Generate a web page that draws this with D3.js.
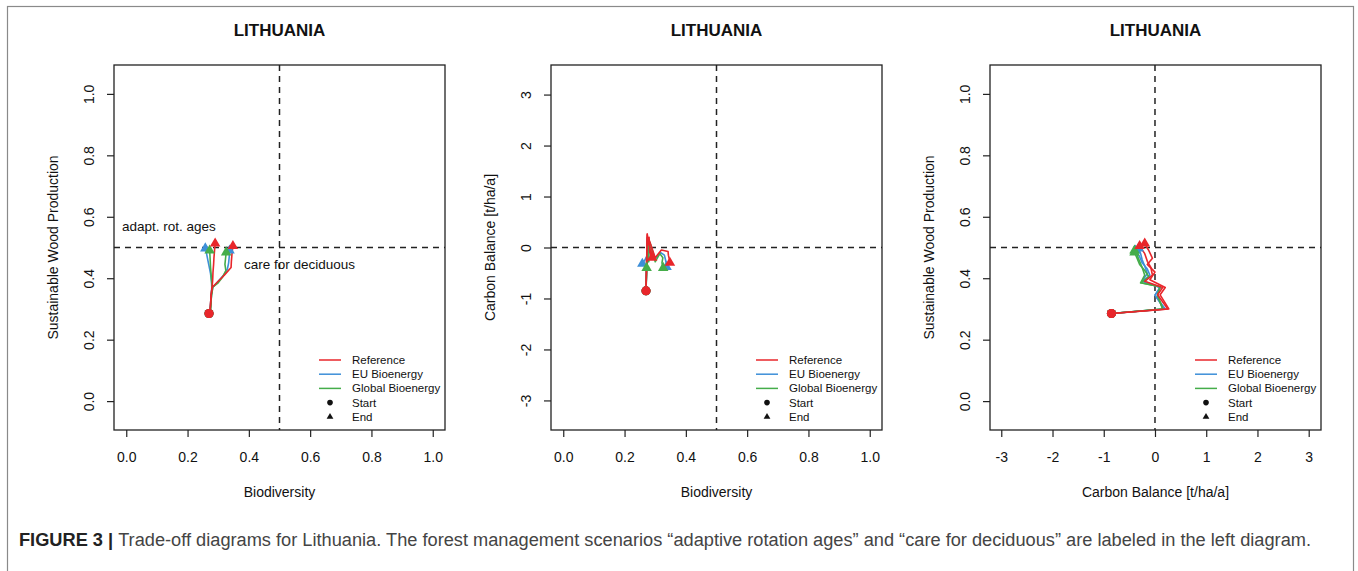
<!DOCTYPE html>
<html>
<head>
<meta charset="utf-8">
<script src="https://cdn.jsdelivr.net/npm/d3@7"></script>
<style>
  html, body { margin: 0; padding: 0; background: #fff; }
  svg { display: block; }
  text { font-family: "Liberation Sans", Arial, sans-serif; }
</style>
</head>
<body>
<svg id="chart" width="1358" height="571"></svg>
<script>
// ---------------- DATA ----------------
const countryTitle = "LITHUANIA";
const climateNames = ["Reference", "EU Bioenergy", "Global Bioenergy"];
const climateColors = ["#e8262b", "#3d8fd8", "#45ad4a"];
const unitTicks = [0.0, 0.2, 0.4, 0.6, 0.8, 1.0];
const unitTickLabels = ["0.0", "0.2", "0.4", "0.6", "0.8", "1.0"];
const carbonTicks = [-3, -2, -1, 0, 1, 2, 3];
const carbonTickLabels = ["-3", "-2", "-1", "0", "1", "2", "3"];

// Management "adaptive rotation ages"
const bio_AR_REF  = [0.270, 0.274, 0.277, 0.280, 0.282, 0.283, 0.285, 0.286, 0.288, 0.290];
const wood_AR_REF = [0.285, 0.300, 0.346, 0.370, 0.395, 0.420, 0.445, 0.465, 0.490, 0.513];
const carb_AR_REF = [-0.85, 0.27, 0.10, 0.20, -0.10, 0.00, -0.15, -0.05, -0.12, -0.20];

const bio_AR_EU   = [0.270, 0.274, 0.277, 0.279, 0.278, 0.275, 0.270, 0.266, 0.262, 0.258];
const wood_AR_EU  = [0.285, 0.300, 0.345, 0.370, 0.390, 0.415, 0.440, 0.460, 0.480, 0.497];
const carb_AR_EU  = [-0.85, 0.18, 0.00, 0.10, -0.25, -0.15, -0.20, -0.25, -0.28, -0.32];

const bio_AR_GLB  = [0.270, 0.275, 0.278, 0.280, 0.279, 0.277, 0.275, 0.274, 0.273, 0.272];
const wood_AR_GLB = [0.285, 0.300, 0.345, 0.372, 0.385, 0.410, 0.435, 0.455, 0.475, 0.490];
const carb_AR_GLB = [-0.85, 0.15, 0.05, 0.10, -0.28, -0.20, -0.25, -0.30, -0.35, -0.40];

// Management "care for deciduous"
const bio_CD_REF  = [0.270, 0.274, 0.277, 0.280, 0.300, 0.320, 0.342, 0.343, 0.345, 0.348];
const wood_CD_REF = [0.285, 0.300, 0.346, 0.370, 0.390, 0.410, 0.435, 0.455, 0.480, 0.505];
const carb_CD_REF = [-0.85, 0.25, 0.05, 0.15, -0.20, -0.05, -0.08, -0.15, -0.20, -0.30];

const bio_CD_EU   = [0.270, 0.274, 0.278, 0.282, 0.300, 0.318, 0.330, 0.334, 0.336, 0.337];
const wood_CD_EU  = [0.285, 0.300, 0.345, 0.370, 0.390, 0.410, 0.430, 0.450, 0.470, 0.490];
const carb_CD_EU  = [-0.85, 0.20, 0.00, 0.10, -0.22, -0.10, -0.15, -0.25, -0.30, -0.38];

const bio_CD_GLB  = [0.270, 0.275, 0.278, 0.283, 0.300, 0.315, 0.325, 0.322, 0.324, 0.326];
const wood_CD_GLB = [0.285, 0.300, 0.345, 0.372, 0.385, 0.405, 0.425, 0.445, 0.465, 0.484];
const carb_CD_GLB = [-0.85, 0.15, 0.05, 0.10, -0.28, -0.12, -0.20, -0.30, -0.35, -0.40];

const legendLabels = ["Reference", "EU Bioenergy", "Global Bioenergy", "Start", "End"];
const captionBold = "FIGURE 3 | ";
const captionText = "Trade-off diagrams for Lithuania. The forest management scenarios \u201cadaptive rotation ages\u201d and \u201ccare for deciduous\u201d are labeled in the left diagram.";

// ---------------- BUILD ----------------
const trajectories = [
  {clim: 1, bio: bio_AR_EU,  wood: wood_AR_EU,  carb: carb_AR_EU},
  {clim: 1, bio: bio_CD_EU,  wood: wood_CD_EU,  carb: carb_CD_EU},
  {clim: 2, bio: bio_AR_GLB, wood: wood_AR_GLB, carb: carb_AR_GLB},
  {clim: 2, bio: bio_CD_GLB, wood: wood_CD_GLB, carb: carb_CD_GLB},
  {clim: 0, bio: bio_AR_REF, wood: wood_AR_REF, carb: carb_AR_REF},
  {clim: 0, bio: bio_CD_REF, wood: wood_CD_REF, carb: carb_CD_REF}
];

const svg = d3.select("#chart");

svg.append("rect").attr("x", 7.5).attr("y", 6.5).attr("width", 1346).attr("height", 600)
  .attr("fill", "none").attr("stroke", "#8a8a8a").attr("stroke-width", 1.2);

const unitFmt = d => unitTickLabels[unitTicks.indexOf(d)];
const carbFmt = d => carbonTickLabels[carbonTicks.indexOf(d)];

const panels = [
  {left: 114, xKey: "bio",  yKey: "wood", xDom: [-0.04, 1.04], yDom: [-0.094, 1.094],
   xTicks: unitTicks, yTicks: unitTicks, xFmt: unitFmt, yFmt: unitFmt,
   xCross: 0.5, yCross: 0.5, xLabel: "Biodiversity", yLabel: "Sustainable Wood Production", annot: true},
  {left: 551, xKey: "bio",  yKey: "carb", xDom: [-0.04, 1.04], yDom: [-3.58, 3.58],
   xTicks: unitTicks, yTicks: carbonTicks, xFmt: unitFmt, yFmt: carbFmt,
   xCross: 0.5, yCross: 0, xLabel: "Biodiversity", yLabel: "Carbon Balance [t/ha/a]", annot: false},
  {left: 990, xKey: "carb", yKey: "wood", xDom: [-3.22, 3.24], yDom: [-0.094, 1.094],
   xTicks: carbonTicks, yTicks: unitTicks, xFmt: carbFmt, yFmt: unitFmt,
   xCross: 0, yCross: 0.5, xLabel: "Carbon Balance [t/ha/a]", yLabel: "Sustainable Wood Production", annot: false}
];

const boxW = 331, boxTop = 65, boxH = 365;
const axisColor = "#222";

panels.forEach(p => {
  const g = svg.append("g");
  const x = d3.scaleLinear().domain(p.xDom).range([p.left, p.left + boxW]);
  const y = d3.scaleLinear().domain(p.yDom).range([boxTop + boxH, boxTop]);

  g.append("text").attr("x", p.left + boxW / 2).attr("y", 36)
    .attr("text-anchor", "middle").attr("font-size", 17).attr("font-weight", "bold")
    .attr("fill", "#111").text(countryTitle);

  const xAxis = d3.axisBottom(x).tickValues(p.xTicks).tickFormat(p.xFmt).tickSize(7).tickPadding(15);
  const gx = g.append("g").attr("transform", `translate(0,${boxTop + boxH})`).call(xAxis);
  gx.select(".domain").remove();
  gx.selectAll("line").attr("stroke", axisColor).attr("stroke-width", 1.2);
  gx.selectAll("text").attr("font-size", 14).attr("fill", "#111")
    .attr("font-family", "'Liberation Sans', Arial, sans-serif");

  const yAxis = d3.axisLeft(y).tickValues(p.yTicks).tickFormat(p.yFmt).tickSize(7);
  const gy = g.append("g").attr("transform", `translate(${p.left},0)`).call(yAxis);
  gy.select(".domain").remove();
  gy.selectAll("line").attr("stroke", axisColor).attr("stroke-width", 1.2);
  gy.selectAll("text")
    .attr("font-size", 14).attr("fill", "#111")
    .attr("font-family", "'Liberation Sans', Arial, sans-serif")
    .attr("x", null).attr("dy", null)
    .attr("text-anchor", "middle")
    .attr("transform", "translate(-25,0) rotate(-90)")
    .attr("dominant-baseline", "central");

  g.append("text").attr("x", p.left + boxW / 2).attr("y", 497)
    .attr("text-anchor", "middle").attr("font-size", 14).attr("fill", "#111").text(p.xLabel);
  g.append("text")
    .attr("transform", `translate(${p.left - 61},${boxTop + boxH / 2}) rotate(-90)`)
    .attr("text-anchor", "middle").attr("dominant-baseline", "central")
    .attr("font-size", 14).attr("fill", "#111").text(p.yLabel);

  g.append("line").attr("x1", x(p.xCross)).attr("x2", x(p.xCross))
    .attr("y1", boxTop).attr("y2", boxTop + boxH)
    .attr("stroke", "#222").attr("stroke-width", 1.5).attr("stroke-dasharray", "6,5");
  g.append("line").attr("x1", p.left).attr("x2", p.left + boxW)
    .attr("y1", y(p.yCross)).attr("y2", y(p.yCross))
    .attr("stroke", "#222").attr("stroke-width", 1.5).attr("stroke-dasharray", "6,5");

  const line = d3.line().x(d => x(d[0])).y(d => y(d[1]));
  trajectories.forEach(t => {
    const pts = t[p.xKey].map((v, i) => [v, t[p.yKey][i]]);
    g.append("path").attr("d", line(pts)).attr("fill", "none")
      .attr("stroke", climateColors[t.clim]).attr("stroke-width", 1.6)
      .attr("stroke-linejoin", "round");
  });
  trajectories.forEach(t => {
    const n = t[p.xKey].length - 1;
    g.append("path").attr("d", d3.symbol(d3.symbolTriangle).size(48)())
      .attr("transform", `translate(${x(t[p.xKey][n])},${y(t[p.yKey][n])})`)
      .attr("fill", climateColors[t.clim]);
  });
  trajectories.forEach(t => {
    g.append("circle").attr("cx", x(t[p.xKey][0])).attr("cy", y(t[p.yKey][0]))
      .attr("r", 4.5).attr("fill", climateColors[t.clim]);
  });

  g.append("rect").attr("x", p.left).attr("y", boxTop).attr("width", boxW).attr("height", boxH)
    .attr("fill", "none").attr("stroke", "#222").attr("stroke-width", 1.3);

  if (p.annot) {
    g.append("text").attr("x", 122).attr("y", 231).attr("font-size", 13.5).attr("fill", "#111")
      .text("adapt. rot. ages");
    g.append("text").attr("x", 244).attr("y", 269).attr("font-size", 13.5).attr("fill", "#111")
      .text("care for deciduous");
  }

  const lx = p.left + boxW - 126;
  const rowY = d => 360 + d * 14.2;
  const lg = g.append("g");
  legendLabels.forEach((lab, i) => {
    const yy = rowY(i);
    if (i < 3) {
      lg.append("line").attr("x1", lx).attr("x2", lx + 22).attr("y1", yy).attr("y2", yy)
        .attr("stroke", climateColors[i]).attr("stroke-width", 1.5);
    } else if (i === 3) {
      lg.append("circle").attr("cx", lx + 11).attr("cy", yy).attr("r", 2.8).attr("fill", "#111");
    } else {
      lg.append("path").attr("d", d3.symbol(d3.symbolTriangle).size(20)())
        .attr("transform", `translate(${lx + 11},${yy})`).attr("fill", "#111");
    }
    lg.append("text").attr("x", lx + 33).attr("y", yy).attr("dominant-baseline", "central")
      .attr("font-size", 11.5).attr("fill", "#111").text(lab);
  });
});

const cap = svg.append("text").attr("x", 19).attr("y", 546).attr("font-size", 18)
  .attr("textLength", 1292).attr("lengthAdjust", "spacingAndGlyphs");
cap.append("tspan").attr("font-weight", "bold").attr("fill", "#222").text(captionBold);
cap.append("tspan").attr("fill", "#444").text(captionText);
</script>
</body>
</html>
